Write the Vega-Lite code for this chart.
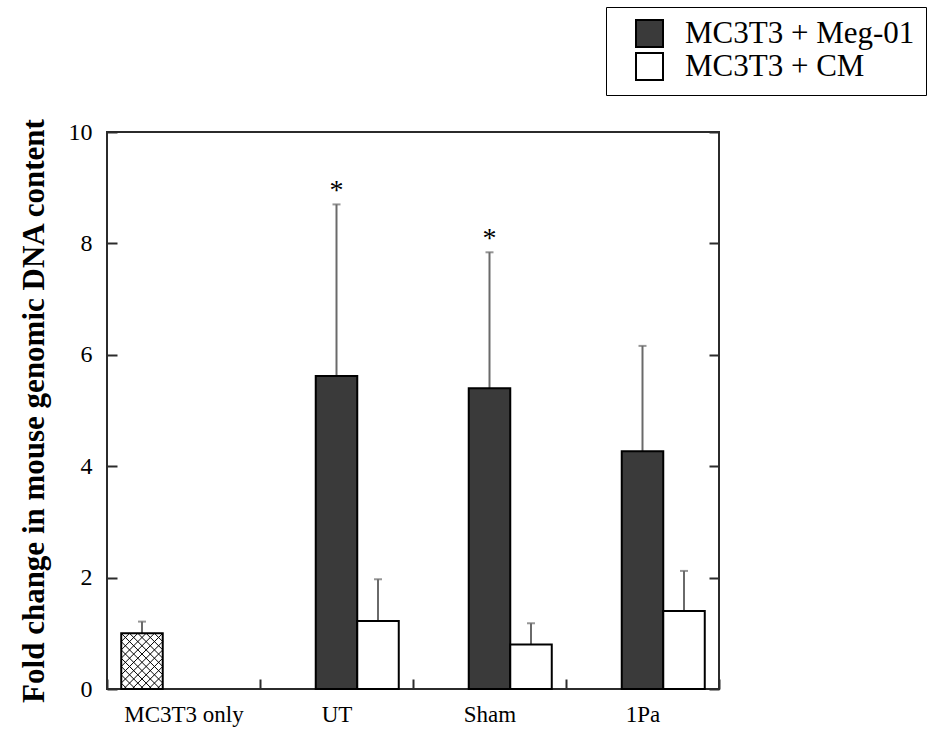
{
  "$schema": "https://vega.github.io/schema/vega-lite/v6.json",
  "width": 612,
  "height": 557,
  "autosize": "none",
  "padding": {"left": 107, "top": 132, "right": 210, "bottom": 43},
  "background": "white",
  "config": {
    "view": {"stroke": "#2b2b2b", "strokeWidth": 2},
    "axis": {
      "labelFont": "Liberation Serif",
      "labelColor": "#000",
      "titleFont": "Liberation Serif",
      "titleColor": "#000",
      "domain": false,
      "grid": false,
      "tickColor": "#2b2b2b",
      "tickWidth": 2
    },
    "legend": {
      "labelFont": "Liberation Serif",
      "labelColor": "#000"
    }
  },
  "data": {
    "values": [
      {"group": "MC3T3 only", "series": "MC3T3 only", "value": 1.0, "upper": 1.21},
      {"group": "UT", "series": "MC3T3 + Meg-01", "value": 5.62, "upper": 8.70, "sig": "*"},
      {"group": "UT", "series": "MC3T3 + CM", "value": 1.22, "upper": 1.97},
      {"group": "Sham", "series": "MC3T3 + Meg-01", "value": 5.40, "upper": 7.84, "sig": "*"},
      {"group": "Sham", "series": "MC3T3 + CM", "value": 0.80, "upper": 1.18},
      {"group": "1Pa", "series": "MC3T3 + Meg-01", "value": 4.27, "upper": 6.16},
      {"group": "1Pa", "series": "MC3T3 + CM", "value": 1.40, "upper": 2.12}
    ]
  },
  "encoding": {
    "x": {
      "field": "group",
      "type": "nominal",
      "sort": ["MC3T3 only", "UT", "Sham", "1Pa"],
      "scale": {"paddingInner": 0, "paddingOuter": 0},
      "axis": {
        "title": null,
        "labelAngle": 0,
        "labelFontSize": 23,
        "tickBand": "extent",
        "tickSize": -10,
        "labelPadding": 24
      }
    },
    "xOffset": {
      "field": "series",
      "type": "nominal",
      "sort": ["MC3T3 only", "MC3T3 + Meg-01", "MC3T3 + CM"],
      "scale": {"paddingInner": 0, "paddingOuter": 0.343}
    }
  },
  "layer": [
    {
      "mark": {"type": "rule", "color": "#6a6a6a", "strokeWidth": 2},
      "encoding": {
        "y": {
          "field": "value",
          "type": "quantitative",
          "scale": {"domain": [0, 10], "nice": false},
          "axis": {"orient": "right", "labels": false, "title": null, "tickSize": -10, "values": [0, 2, 4, 6, 8, 10]}
        },
        "y2": {"field": "upper"}
      }
    },
    {
      "mark": {"type": "tick", "color": "#6a6a6a", "size": 8, "thickness": 2},
      "encoding": {
        "y": {"field": "upper", "type": "quantitative", "axis": null}
      }
    },
    {
      "mark": {"type": "bar", "stroke": "#000", "strokeWidth": 2},
      "encoding": {
        "y": {
          "field": "value",
          "type": "quantitative",
          "scale": {"domain": [0, 10], "nice": false},
          "axis": {
            "orient": "left",
            "values": [0, 2, 4, 6, 8, 10],
            "tickSize": -10,
            "labelPadding": 25,
            "labelFontSize": 24,
            "title": "Fold change in mouse genomic DNA content",
            "titleFontSize": 31,
            "titleFontWeight": "bold",
            "titlePadding": 18
          }
        },
        "color": {
          "field": "series",
          "type": "nominal",
          "scale": {
            "domain": ["MC3T3 only", "MC3T3 + Meg-01", "MC3T3 + CM"],
            "range": ["#ffffff", "#3a3a3a", "#ffffff"]
          },
          "legend": {
            "title": null,
            "values": ["MC3T3 + Meg-01", "MC3T3 + CM"],
            "orient": "none",
            "legendX": 499,
            "legendY": -125,
            "direction": "vertical",
            "symbolType": "square",
            "symbolSize": 729,
            "symbolStrokeColor": "#000",
            "symbolStrokeWidth": 2,
            "symbolOpacity": 1,
            "symbolOffset": 17,
            "labelFontSize": 31,
            "labelLimit": 400,
            "labelOffset": 20,
            "rowPadding": -4,
            "padding": 11,
            "strokeColor": "#000",
            "fillColor": "#fff"
          }
        }
      }
    },
    {
      "transform": [{"filter": "datum.series === 'MC3T3 only'"}],
      "mark": {
        "type": "point",
        "shape": "M0.6,0L1,0.4M0.2,0L1,0.8M-0.2,0L1,1.2M-0.6,0L1,1.6M-1,0L1,2M-1,0.4L1,2.4M-1,0.8L0.88,2.68M-1,1.2L0.48,2.68M-1,1.6L0.08,2.68M-1,2L-0.32,2.68M-1,2.4L-0.72,2.68M-0.6,0L-1,0.4M-0.2,0L-1,0.8M0.2,0L-1,1.2M0.6,0L-1,1.6M1,0L-1,2M1,0.4L-1,2.4M1,0.8L-0.88,2.68M1,1.2L-0.48,2.68M1,1.6L-0.08,2.68M1,2L0.32,2.68M1,2.4L0.72,2.68",
        "size": 1722,
        "filled": false,
        "stroke": "#000",
        "strokeWidth": 1,
        "opacity": 1
      },
      "encoding": {
        "y": {"field": "value", "type": "quantitative", "axis": null}
      }
    },
    {
      "transform": [{"filter": "datum.sig"}],
      "mark": {"type": "text", "font": "Liberation Serif", "fontSize": 28, "color": "#000", "baseline": "alphabetic", "dy": -5},
      "encoding": {
        "y": {"field": "upper", "type": "quantitative", "axis": null},
        "text": {"field": "sig"}
      }
    }
  ]
}
